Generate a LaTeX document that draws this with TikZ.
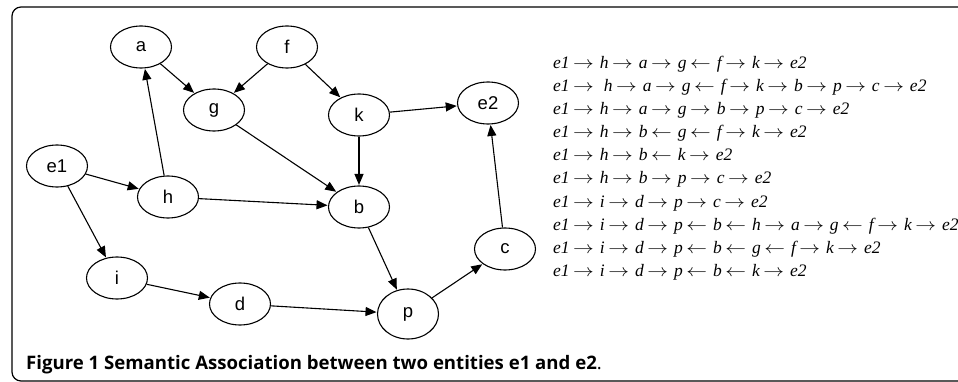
\documentclass[tikz,border=0pt]{standalone}
\usepackage{fontspec}
\usepackage{graphicx}
\setmainfont{Liberation Sans}
\newfontfamily\pathfont{Liberation Serif}
\newfontfamily\capfont{Open Sans}
\usetikzlibrary{shapes.geometric, arrows.meta}
\newcommand\rarr{\hspace{3.5pt}\scalebox{1.2}[1]{$\rightarrow$}\hspace{6pt}}
\newcommand\larr{\hspace{3.5pt}\scalebox{1.2}[1]{$\leftarrow$}\hspace{6pt}}
\begin{document}
\begin{tikzpicture}[x = 1pt, y = -1pt,
  ent/.style = {ellipse, draw, line width = 1.1pt, minimum width = 61pt, minimum height = 42pt, inner sep = 0pt, font = \fontsize{18.5}{18.5}\selectfont},
  arr/.style = {line width = 1.1pt, -{Triangle[length = 11pt, width = 9pt]}, shorten > = 0.5pt},
  path/.style = {anchor = base west, inner sep = 0pt, font = \pathfont\itshape\fontsize{17.5}{18}\selectfont}]
\useasboundingbox (0, 0) rectangle (958, 382);
\clip (0, 0) rectangle (958, 382);
\draw [line width = 1.2pt, rounded corners = 9pt] (12, 7) rectangle (990, 381);

\node [ent] (a) at (141, 47) {a};
\node [ent] (f) at (287, 47) {f};
\node [ent] (g) at (214, 110) {g};
\node [ent] (k) at (359, 115) {k};
\node [ent] (e2) at (488, 103) {e2};
\node [ent] (e1) at (57, 166) {e1};
\node [ent] (h) at (168, 197) {h};
\node [ent] (b) at (359, 207) {b};
\node [ent] (i) at (117, 278) {i};
\node [ent] (d) at (240, 304) {d};
\node [ent, minimum height = 50pt] (p) at (408, 314) {p};
\node [ent] (c) at (505, 249) {c};

\draw [arr] (a) -- (g);
\draw [arr] (f) -- (g);
\draw [arr] (f) -- (k);
\draw [arr] (k) -- (e2);
\draw [arr] (k) -- (b);
\draw [arr] (g) -- (b);
\draw [arr] (e1) -- (h);
\draw [arr] (e1) -- (i);
\draw [arr] (h) -- (a);
\draw [arr] (h) -- (b);
\draw [arr] (b) -- (p);
\draw [arr] (i) -- (d);
\draw [arr] (d) -- (p);
\draw [arr] (p) -- (c);
\draw [arr] (c) -- (e2);

\node [path] (l1) at (553, 68.5) {e1\rarr h\rarr a\rarr g\larr f\rarr k\rarr e2};
\node [path] (l2) at (553, 91.6) {e1\rarr\hspace{4pt}h\rarr a\rarr g\larr f\rarr k\rarr b\rarr p\rarr c\rarr e2};
\node [path] (l3) at (553, 114.7) {e1\rarr h\rarr a\rarr g\rarr b\rarr p\rarr c\rarr e2};
\node [path] (l4) at (553, 137.8) {e1\rarr h\rarr b\larr g\larr f\rarr k\rarr e2};
\node [path] (l5) at (553, 160.9) {e1\rarr h\rarr b\larr k\rarr e2};
\node [path] (l6) at (553, 184) {e1\rarr h\rarr b\rarr p\rarr c\rarr e2};
\node [path] (l7) at (553, 207.1) {e1\rarr i\rarr d\rarr p\rarr c\rarr e2};
\node [path] (l8) at (553, 230.2) {e1\rarr i\rarr d\rarr p\larr b\larr h\rarr a\rarr g\larr f\rarr k\rarr e2};
\node [path] (l9) at (553, 253.3) {e1\rarr i\rarr d\rarr p\larr b\larr g\larr f\rarr k\rarr e2};
\node [path] (l10) at (553, 276.4) {e1\rarr i\rarr d\rarr p\larr b\larr k\rarr e2};

\node [anchor = base west, inner sep = 0pt, font = \capfont\fontsize{18.6}{18.6}\selectfont] (cap) at (26, 369) {\textbf{Figure 1 Semantic Association between two entities e1 and e2}.};
\end{tikzpicture}
\end{document}
